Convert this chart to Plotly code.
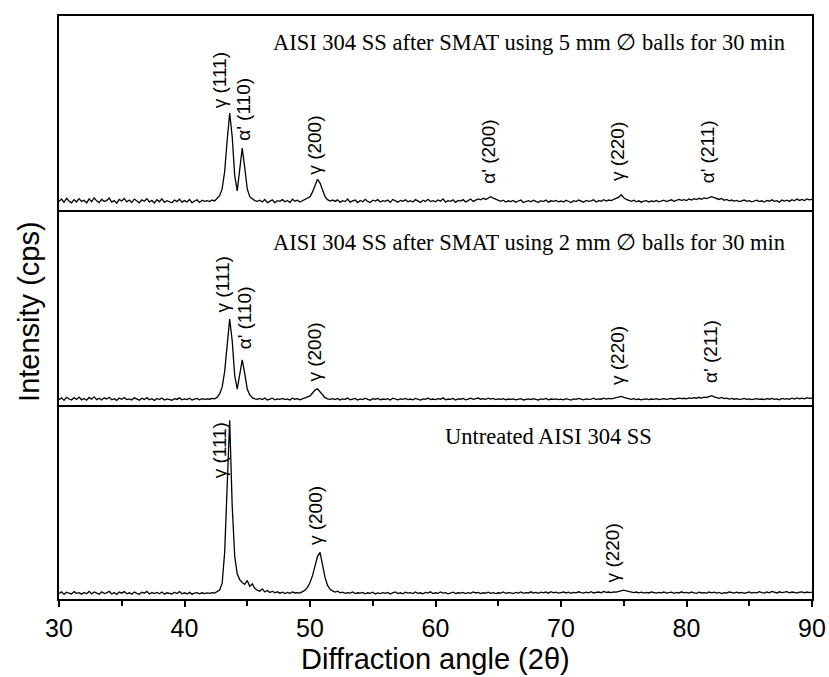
import plotly.graph_objects as go
from plotly.subplots import make_subplots

# ---------------- data ----------------
scan_start = 30.0
scan_step = 0.2
n_points = 301
two_theta = [round(scan_start + scan_step * i, 2) for i in range(n_points)]

# intensity (arbitrary units; each panel spans 0-100)
smat_5mm = [
    4.5,5.8,4.1,6.2,4.8,3.9,5.5,4.3,6.0,4.6,
    5.2,3.8,5.9,4.4,6.4,4.9,4.0,5.7,4.5,5.1,
    6.3,4.2,5.0,3.7,5.6,4.8,6.1,4.4,5.3,4.0,
    5.8,4.6,3.9,5.4,4.7,6.0,4.3,5.1,3.8,5.5,
    4.4,5.9,4.1,5.0,4.6,3.9,5.3,4.5,5.7,4.2,
    5.0,4.3,5.6,3.9,4.8,5.4,4.1,5.2,4.6,5.0,
    4.5,5.3,4.8,6.0,7.5,11,20,36,50,38,
    18,10,20,32,22,11,7,5.8,5.0,4.6,
    5.2,4.3,5.6,4.0,4.9,5.4,3.9,5.0,4.6,5.5,
    4.4,5.1,4.0,5.7,4.7,5.2,4.3,5.0,5.6,6.2,
    7.0,9.5,13,16,14,10,7,5.5,4.8,5.3,
    4.6,5.4,4.1,5.0,4.5,5.8,4.2,4.9,5.3,4.0,
    5.1,4.4,5.7,4.6,4.0,5.2,4.8,5.5,4.3,5.0,
    4.6,5.3,4.1,5.6,4.9,4.2,5.1,4.7,5.4,4.4,
    5.0,4.3,5.5,4.8,4.1,5.2,4.6,5.7,4.5,5.0,
    4.4,5.3,4.7,5.9,4.2,5.0,4.6,5.4,4.1,5.1,
    4.8,5.5,4.3,5.0,5.8,4.6,5.2,5.9,5.4,6.2,
    5.6,6.5,7.0,6.3,5.8,5.0,4.6,5.2,4.3,4.9,
    4.5,5.1,4.2,4.8,5.3,4.0,4.7,5.0,4.4,5.2,
    4.6,4.1,5.0,4.5,5.3,4.2,4.9,4.6,5.1,4.4,
    4.8,4.3,5.2,4.6,4.0,5.0,4.5,5.3,4.7,4.2,
    5.1,4.6,4.9,5.4,4.3,5.0,4.7,5.5,4.8,5.3,
    5.0,5.6,6.0,6.8,8.0,6.5,5.6,5.0,4.6,5.2,
    4.4,4.9,4.2,4.7,5.0,4.3,4.8,4.5,5.1,4.4,
    4.7,5.2,4.5,4.9,5.4,4.6,5.0,5.6,5.1,5.5,
    5.0,5.8,5.3,6.0,5.5,6.2,5.7,6.4,6.0,6.6,
    7.0,6.5,6.0,5.6,6.1,5.2,5.6,4.9,5.3,4.8,
    5.1,4.5,4.9,5.3,4.6,5.0,4.4,4.8,5.2,4.5,
    4.9,4.3,5.1,4.7,5.4,4.6,5.0,4.2,5.3,4.8,
    5.2,4.6,5.5,4.9,5.8,5.1,5.6,5.0,5.9,5.4,5.7,
]

smat_2mm = [
    2.6,3.5,2.2,3.8,2.9,2.4,3.6,2.7,3.9,2.5,
    3.2,2.3,3.7,2.8,4.0,2.6,3.3,2.4,3.5,2.9,
    3.8,2.5,3.1,2.2,3.4,2.8,3.7,2.6,3.0,2.4,
    3.5,2.8,2.3,3.3,2.7,3.6,2.5,3.1,2.2,3.2,
    2.6,3.4,2.4,3.0,2.8,2.3,3.1,2.7,3.5,2.5,
    3.0,2.6,3.3,2.4,2.9,3.2,2.5,3.1,2.7,3.0,
    2.8,3.2,3.0,3.8,5.5,9,17,31,44,33,
    15,8,15,23,16,8,5,3.6,3.0,2.7,
    3.2,2.6,3.4,2.4,2.9,3.3,2.5,3.0,2.7,3.2,
    2.6,3.0,2.4,3.3,2.8,3.1,2.5,3.0,3.4,3.8,
    4.5,6.0,7.5,8.2,6.5,4.8,3.6,3.0,2.7,3.1,
    2.6,3.2,2.4,3.0,2.7,3.4,2.5,2.9,3.2,2.4,
    3.0,2.6,3.3,2.7,2.3,3.1,2.8,3.2,2.5,2.9,
    2.7,3.1,2.4,3.3,2.8,2.5,3.0,2.7,3.2,2.6,
    2.9,2.5,3.2,2.8,2.4,3.0,2.7,3.4,2.6,2.9,
    2.6,3.1,2.8,3.5,2.5,2.9,2.7,3.2,2.4,3.0,
    2.8,3.2,2.5,2.9,3.3,2.7,3.0,3.4,2.8,3.1,
    2.7,3.3,2.9,3.2,2.6,3.0,2.7,3.1,2.5,2.9,
    2.7,3.0,2.5,2.9,3.1,2.4,2.8,3.0,2.6,3.1,
    2.7,2.4,3.0,2.7,3.2,2.5,2.9,2.7,3.0,2.6,
    2.8,2.5,3.1,2.7,2.4,3.0,2.7,3.2,2.8,2.5,
    3.0,2.7,2.9,3.3,2.6,3.0,2.8,3.3,2.9,3.2,
    3.0,3.4,3.6,3.9,4.3,3.8,3.4,3.0,2.7,3.1,
    2.6,2.9,2.5,2.8,3.0,2.6,2.9,2.7,3.1,2.6,
    2.8,3.1,2.7,2.9,3.2,2.8,3.0,3.4,3.1,3.3,
    3.0,3.5,3.2,3.6,3.3,3.8,3.4,3.9,3.7,4.2,
    4.6,4.0,3.6,3.3,3.7,3.1,3.4,2.9,3.2,2.8,
    3.1,2.7,2.9,3.2,2.7,3.0,2.6,2.9,3.1,2.7,
    2.9,2.6,3.1,2.8,3.2,2.7,3.0,2.5,3.2,2.9,
    3.1,2.7,3.3,2.9,3.5,3.0,3.4,3.0,3.6,3.2,3.4,
]

untreated = [
    2.8,3.7,2.4,3.5,3.0,2.6,3.8,2.9,3.3,2.5,
    3.4,2.7,3.9,2.6,3.6,3.0,2.5,3.7,2.8,3.2,
    3.9,2.6,3.3,2.4,3.6,3.0,3.8,2.7,3.2,2.5,
    3.6,2.9,2.4,3.5,3.0,3.9,2.6,3.3,2.8,3.4,
    2.7,3.6,2.5,3.2,3.0,2.6,3.5,2.8,3.8,2.7,
    3.2,2.6,3.4,2.5,3.0,3.3,2.7,3.2,2.8,3.1,
    2.9,3.3,3.0,3.6,4.6,8,24,58,92,48,
    22,13,10,8.5,7.5,9.5,6.5,7.8,5.5,4.5,
    4.0,5.2,3.6,4.4,3.3,4.0,3.2,3.7,3.0,3.5,
    2.8,3.4,2.9,3.6,3.1,3.3,3.0,3.8,4.5,6.0,
    8.5,12,17,22,24,18,11,7,5,4.2,
    3.6,4.0,3.2,3.5,2.9,3.3,3.0,3.6,2.8,3.2,
    3.0,3.4,2.7,3.2,2.9,3.5,2.6,3.1,2.8,3.3,
    2.9,3.4,2.6,3.1,3.6,2.8,3.2,2.7,3.5,3.0,
    3.3,2.8,3.6,2.9,3.2,2.7,3.4,3.0,3.7,2.8,
    3.2,2.9,3.6,3.0,3.3,2.7,3.1,3.5,2.8,3.2,
    3.0,3.4,2.8,3.3,2.9,3.6,3.1,3.4,2.8,3.2,
    3.0,3.5,2.9,3.3,2.8,3.2,3.0,3.6,2.9,3.3,
    3.1,2.8,3.4,3.0,3.6,2.9,3.3,3.1,3.7,3.0,
    3.4,2.9,3.5,3.2,3.6,3.0,3.8,3.2,3.5,3.0,
    3.3,3.6,3.1,3.5,2.9,3.4,3.2,3.7,3.3,3.0,
    3.5,3.2,3.8,3.1,3.4,3.6,3.2,3.9,3.4,3.6,
    3.3,3.7,3.5,4.0,4.3,4.6,4.2,3.8,3.5,3.3,
    3.6,3.2,3.5,3.0,3.4,3.1,3.6,3.3,3.0,3.4,
    3.2,3.6,3.0,3.3,3.5,2.9,3.4,3.1,3.7,3.2,
    3.4,3.0,3.6,3.2,2.9,3.5,3.1,3.3,3.0,3.6,
    3.2,3.5,3.0,3.4,2.8,3.3,3.1,3.6,3.2,3.0,
    3.5,3.1,3.4,2.9,3.3,3.6,3.0,3.4,3.2,3.8,
    3.3,3.0,3.6,3.2,3.9,3.4,3.1,3.7,3.3,3.5,
    3.8,3.2,3.6,3.4,3.0,3.5,3.7,3.2,3.6,3.3,3.5,
]

panel_titles = [
    "AISI 304 SS after SMAT using 5 mm \u2205 balls for 30 min",
    "AISI 304 SS after SMAT using 2 mm \u2205 balls for 30 min",
    "Untreated AISI 304 SS",
]

# peak labels: (text, 2theta position of label, label height in panel units)
peaks_5mm = [("\u03b3 (111)", 42.8, 66.7), ("\u03b1' (110)", 44.75, 51.8),
             ("\u03b3 (200)", 50.4, 33.3), ("\u03b1' (200)", 64.2, 30.3),
             ("\u03b3 (220)", 74.5, 30.3), ("\u03b1' (211)", 81.7, 30.3)]
peaks_2mm = [("\u03b3 (111)", 43.0, 61.9), ("\u03b1' (110)", 44.8, 44.8),
             ("\u03b3 (200)", 50.4, 26.8), ("\u03b3 (220)", 74.5, 25.3),
             ("\u03b1' (211)", 81.9, 27.3)]
peaks_untreated = [("\u03b3 (111)", 42.8, 76.3), ("\u03b3 (200)", 50.5, 42.8),
                   ("\u03b3 (220)", 74.1, 23.7)]

x_ticks = [30, 40, 50, 60, 70, 80, 90]

# ---------------- figure ----------------
fig = make_subplots(rows=3, cols=1, shared_xaxes=True, vertical_spacing=0)

series = [smat_5mm, smat_2mm, untreated]
for r, ys in enumerate(series, start=1):
    fig.add_trace(go.Scatter(x=two_theta, y=ys, mode="lines",
                             line=dict(color="black", width=1.3),
                             showlegend=False, hoverinfo="skip"), row=r, col=1)

sans = "Arial, Liberation Sans, sans-serif"
serif = "Times New Roman, Liberation Serif, serif"

for r in (1, 2, 3):
    fig.update_yaxes(range=[0, 100], showticklabels=False, ticks="",
                     showgrid=False, zeroline=False, showline=True,
                     linecolor="black", linewidth=1.8, mirror=True,
                     automargin=False, row=r, col=1)
    fig.update_xaxes(range=[30, 90], showgrid=False, zeroline=False,
                     showline=True, linecolor="black", linewidth=1.8,
                     mirror=(r == 1), automargin=False, row=r, col=1)
    if r < 3:
        fig.update_xaxes(showticklabels=False, ticks="", row=r, col=1)

fig.update_xaxes(tickvals=x_ticks, ticks="outside", ticklen=6, tickwidth=1.5,
                 tickcolor="black",
                 minor=dict(dtick=5, tick0=30, ticks="outside", ticklen=5,
                            tickwidth=1.5, tickcolor="black"),
                 tickfont=dict(family=sans, size=25, color="black"),
                 row=3, col=1)

annotations = []
yrefs = ["y", "y2", "y3"]
for yref, plist in zip(yrefs, [peaks_5mm, peaks_2mm, peaks_untreated]):
    for text, xp, yp in plist:
        annotations.append(dict(text=text, x=xp, y=yp, xref="x", yref=yref,
                                textangle=-90, showarrow=False,
                                xanchor="center", yanchor="middle",
                                font=dict(family=sans, size=19, color="black")))

title_font = dict(family=serif, size=22.5, color="black")
annotations.append(dict(text=panel_titles[0], x=0.967, y=0.954, xref="paper",
                        yref="paper", xanchor="right", yanchor="middle",
                        showarrow=False, font=title_font))
annotations.append(dict(text=panel_titles[1], x=0.967, y=0.612, xref="paper",
                        yref="paper", xanchor="right", yanchor="middle",
                        showarrow=False, font=title_font))
annotations.append(dict(text=panel_titles[2], x=0.510, y=0.278, xref="paper",
                        yref="paper", xanchor="left", yanchor="middle",
                        showarrow=False, font=title_font))

# axis titles
annotations.append(dict(text="Intensity (cps)", x=-0.040, y=0.494,
                        xref="paper", yref="paper", textangle=-90,
                        xanchor="center", yanchor="middle", showarrow=False,
                        font=dict(family=sans, size=29, color="black")))
annotations.append(dict(text="Diffraction angle (2\u03b8)", x=0.5, y=-0.1335,
                        xref="paper", yref="paper", xanchor="center",
                        yanchor="bottom", showarrow=False,
                        font=dict(family=sans, size=29, color="black")))

fig.update_layout(width=829, height=677,
                  margin=dict(l=59, r=17, t=16, b=78),
                  paper_bgcolor="white", plot_bgcolor="white",
                  annotations=annotations)

fig.write_html("out.html")
